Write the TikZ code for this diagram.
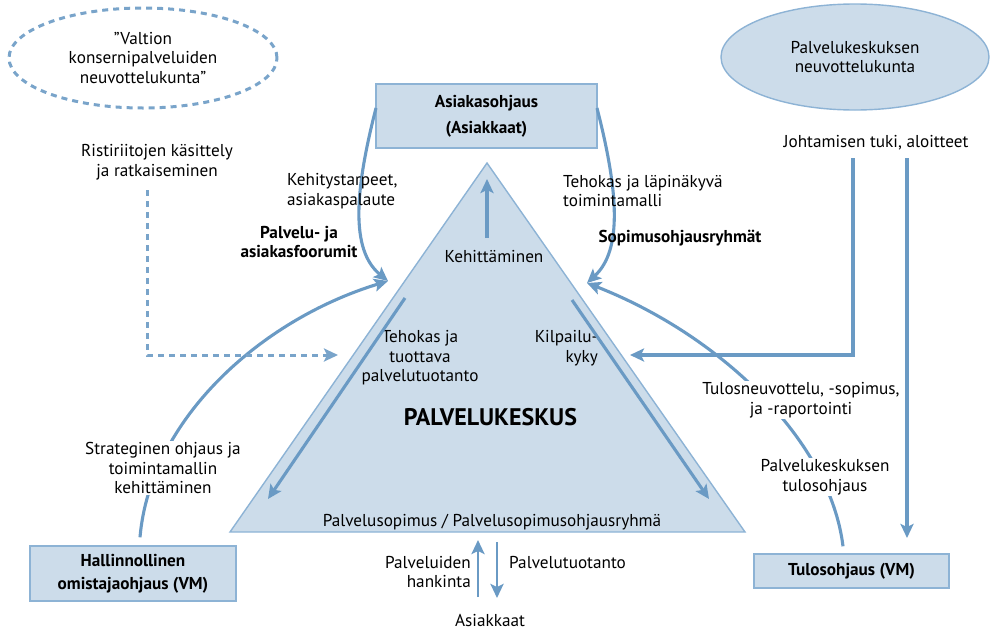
\documentclass[tikz,border=0pt]{standalone}
\usepackage{fontspec}
\setmainfont{PT Sans}
\usetikzlibrary{shapes.geometric,arrows.meta,calc}
\definecolor{flow}{HTML}{6A9AC4}
\definecolor{panel}{HTML}{CCDCEA}
\definecolor{rim}{HTML}{8DB3D5}
\begin{document}
\begin{tikzpicture}[x=1pt,y=1pt,
  font=\fontsize{17.2}{19.5}\selectfont,
  lbl/.style={align=center, inner sep=1pt},
  wlbl/.style={lbl, fill=white},
  bold/.style={font=\fontsize{17.2}{19.5}\selectfont\bfseries},
  panelbox/.style={draw=rim, fill=panel, line width=1.4pt, align=center,
    font=\fontsize{17.2}{19.5}\selectfont\bfseries},
  flowline/.style={draw=flow, line width=3.1pt},
  tip/.style={-{Stealth[length=14pt,width=13pt,inset=3pt]}},
  flowarrow/.style={flowline, tip},
]
\useasboundingbox (0,-632) rectangle (995,0);

% bodies and ellipses
\node[ellipse, draw=flow!90, dash pattern=on 6pt off 5pt, line width=3pt,
  minimum width=268pt, minimum height=100pt, align=center] (vk) at (143,-58)
  {”Valtion\\konsernipalveluiden\\neuvottelukunta”};
\node[ellipse, draw=rim, fill=panel, line width=1.4pt,
  minimum width=268pt, minimum height=106pt, align=center] (pn) at (855,-57)
  {Palvelukeskuksen\\neuvottelukunta};

\node[panelbox, minimum width=221pt, minimum height=64pt,
  font=\fontsize{17.2}{26}\selectfont\bfseries] (ao) at (486.5,-116)
  {Asiakasohjaus\\(Asiakkaat)};
\node[panelbox, minimum width=206pt, minimum height=55pt,
  font=\fontsize{17.2}{23}\selectfont\bfseries] (ho) at (133,-573.5)
  {Hallinnollinen\\omistajaohjaus (VM)};
\node[panelbox, minimum width=195pt, minimum height=34pt] (to) at (851.5,-571)
  {Tulosohjaus (VM)};

% the service centre triangle
\coordinate (tl) at (230,-532);
\coordinate (tr) at (745,-532);
\coordinate (tt) at (487,-163);
\draw[draw=rim, fill=panel, line width=1.4pt, line join=miter] (tl) -- (tr) -- (tt) -- cycle;

\node[lbl] (keh) at (494,-257) {Kehittäminen};
\coordinate (kehtop) at (487,-179);
\draw[flowarrow] (487,-238) coordinate (kehbase) -- (kehtop);

\node[lbl] (teh) at (420,-358) {Tehokas ja\\tuottava\\palvelutuotanto};
\node[lbl, align=right, anchor=east] (kil) at (599,-348) {Kilpailu-\\kyky};
\node[lbl, font=\fontsize{24}{28}\selectfont\bfseries] (pk) at (490.5,-417) {PALVELUKESKUS};
\node[lbl] (pso) at (492,-522) {Palvelusopimus / Palvelusopimusohjausryhmä};

\coordinate (la) at (405,-298);
\coordinate (lb) at (268,-499);
\coordinate (ra) at (572,-300);
\coordinate (rb) at (709,-499);
\draw[flowarrow] (la) -- (lb);
\draw[flowarrow] (ra) -- (rb);

% below the triangle
\node[lbl] (ask) at (490,-620) {Asiakkaat};
\node[lbl, align=right, anchor=east] (phk) at (472,-572) {Palveluiden\\hankinta};
\node[lbl, anchor=west] (ptu) at (508,-563) {Palvelutuotanto};
\coordinate (upb) at (478,-597);
\coordinate (upt) at (478,-540);
\coordinate (dnt) at (497,-542);
\coordinate (dnb) at (497,-598);
\draw[flowarrow, line width=2.8pt] (upb) -- (upt);
\draw[flowarrow, line width=2.8pt] (dnt) -- (dnb);

% customer steering loops
\coordinate (aol) at (376,-108);
\coordinate (aor) at (597,-108);
\coordinate (inl) at (388,-281);
\coordinate (inr) at (587,-283);
\draw[flowarrow] (aol) .. controls (355,-190) and (350,-250) .. (inl);
\draw[flowarrow] (aor) .. controls (618,-190) and (623,-250) .. (inr);

\node[lbl, align=left, anchor=west] (ksp) at (286,-191) {Kehitystarpeet,\\asiakaspalaute};
\node[lbl, bold] (paf) at (299,-242) {Palvelu- ja\\asiakasfoorumit};
\node[lbl, align=left, anchor=west] (tlt) at (562,-191) {Tehokas ja läpinäkyvä\\toimintamalli};
\node[lbl, bold] (sor) at (680,-238) {Sopimusohjausryhmät};

% ownership steering
\coordinate (hot) at ($(ho.north)+(7,8)$);
\draw[flowarrow] (hot) .. controls (150,-420) and (260,-320) .. (inl);
\node[wlbl] (sto) at (163,-468) {Strateginen ohjaus ja\\toimintamallin\\kehittäminen};

% performance steering
\coordinate (tot) at ($(to.north)+(-8.5,7)$);
\draw[flowarrow] (tot) .. controls (830,-440) and (720,-335) .. (inr);
\node[wlbl] (tnv) at (801,-400) {Tulosneuvottelu, -sopimus,\\ja -raportointi};
\node[wlbl] (pto) at (825,-477) {Palvelukeskuksen\\tulosohjaus};

% management support
\node[lbl] (jt) at (876,-143) {Johtamisen tuki, aloitteet};
\coordinate (j1) at (853,-158);
\coordinate (j1e) at (630,-355);
\coordinate (j2) at (907,-158);
\coordinate (j2e) at (907,-538);
\draw[flowarrow] (j1) |- (j1e);
\draw[flowarrow] (j2) -- (j2e);

% conflict resolution
\node[lbl] (rrk) at (157,-162) {Ristiriitojen käsittely\\ja ratkaiseminen};
\coordinate (r1) at (147,-190);
\coordinate (r1e) at (338,-355);
\draw[flowline, draw=flow!90, line width=3pt, dash pattern=on 6pt off 5pt, tip] (r1) |- (r1e);
\end{tikzpicture}
\end{document}
